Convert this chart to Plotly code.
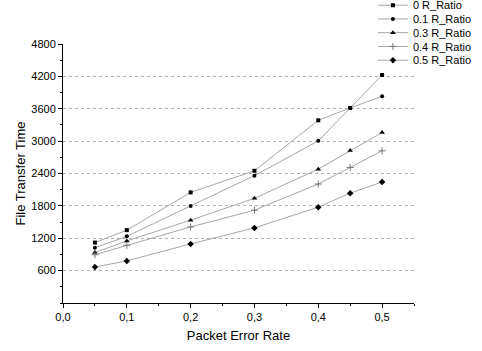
import plotly.graph_objects as go

per = [0.05, 0.1, 0.2, 0.3, 0.4, 0.45, 0.5]
series_names = ["0 R_Ratio", "0.1 R_Ratio", "0.3 R_Ratio", "0.4 R_Ratio", "0.5 R_Ratio"]
r00 = [1120, 1350, 2050, 2450, 3385, 3615, 4225]
r01 = [1025, 1235, 1800, 2360, 3005, 3615, 3830]
r03 = [935, 1150, 1535, 1940, 2480, 2826, 3160]
r04 = [895, 1070, 1410, 1720, 2205, 2512, 2820]
r05 = [667, 780, 1095, 1392, 1776, 2036, 2244]
y_grid = [600, 1200, 1800, 2400, 3000, 3600, 4200]
x_ticks = [0.0, 0.1, 0.2, 0.3, 0.4, 0.5]
y_ticks = [600, 1200, 1800, 2400, 3000, 3600, 4200, 4800]

symbols = ["square", "circle", "triangle-up", "cross-thin", "diamond"]
sizes = [4, 4, 5, 5, 5]
values = [r00, r01, r03, r04, r05]

font = "Liberation Sans, Arial, sans-serif"
plot_top, plot_h = 44, 259
legend_layout = {}
fig = go.Figure()
for i, (name, vals, sym, sz) in enumerate(zip(series_names, values, symbols, sizes)):
    lg = "legend" if i == 0 else f"legend{i + 1}"
    center = 6.7 + 13.75 * i
    top_px = center - 16
    legend_layout[lg] = dict(xref="paper", yref="paper", x=0.883,
                             y=(plot_top + plot_h - top_px) / plot_h,
                             xanchor="left", yanchor="top",
                             font=dict(family=font, size=11, color="black"),
                             bgcolor="rgba(0,0,0,0)")
    mk = dict(symbol=sym, size=sz, color="black")
    if sym == "cross-thin":
        mk["line"] = dict(color="#777777", width=1)
    fig.add_trace(go.Scatter(x=per, y=vals, name=name, mode="lines+markers", legend=lg,
                             line=dict(color="#a6a6a6", width=1), marker=mk))

# invisible trace on overlay axis for grid lines
fig.add_trace(go.Scatter(x=[per[0]], y=[y_grid[0]], yaxis="y2", mode="markers",
                         marker=dict(opacity=0), showlegend=False, hoverinfo="skip"))

fig.update_layout(
    width=482, height=351,
    margin=dict(l=63, r=68, t=44, b=48, autoexpand=False),
    paper_bgcolor="white", plot_bgcolor="white",
    separators=",.",
    font=dict(family=font, size=11, color="black"),
    showlegend=True,
    xaxis=dict(range=[0, 0.55], tickvals=x_ticks, tickformat=".1f", automargin=False,
               showline=True, linecolor="black", linewidth=1,
               ticks="outside", ticklen=4, tickcolor="black",
               minor=dict(dtick=0.05, ticks="outside", ticklen=2, tickcolor="black"),
               showgrid=False, zeroline=False,
               title=dict(text="Packet Error Rate", font=dict(size=13), standoff=8)),
    yaxis=dict(range=[0, 4800], tickvals=y_ticks, tickformat="d", automargin=False,
               showline=True, linecolor="black", linewidth=1,
               ticks="outside", ticklen=4, tickcolor="black",
               minor=dict(dtick=300, tick0=0, ticks="outside", ticklen=2, tickcolor="black"),
               showgrid=False, zeroline=False,
               title=dict(text="File Transfer Time", font=dict(size=13), standoff=2)),
    yaxis2=dict(range=[0, 4800], overlaying="y", tickvals=y_grid, showticklabels=False,
                showgrid=True, gridcolor="#b0b0b0", griddash="dot", gridwidth=1,
                ticks="", zeroline=False, showline=False, automargin=False),
    **legend_layout,
)
fig.write_html("out.html", config={"displayModeBar": False},
               post_script="document.body.style.margin='0px';")
